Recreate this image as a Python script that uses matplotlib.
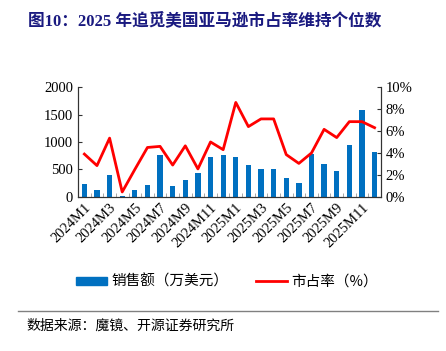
import numpy as np
import matplotlib.pyplot as plt
from matplotlib.patches import Patch
from matplotlib.lines import Line2D

plt.rcParams['font.family'] = ['Liberation Serif', 'Noto Sans CJK SC', 'DejaVu Sans']

months = [f'{y}M{m}' for y in (2024, 2025) for m in range(1, 13)]
sales = [240, 125, 400, 20, 125, 225, 760, 190, 310, 440, 730, 770,
         730, 580, 500, 500, 350, 245, 780, 600, 475, 940, 1575, 820]
share = [3.9, 2.85, 5.35, 0.45, 2.5, 4.5, 4.6, 2.9, 4.65, 2.55, 5.0, 4.3,
         8.6, 6.4, 7.1, 7.1, 3.85, 3.05, 4.0, 6.15, 5.4, 6.85, 6.85, 6.3]

bar_color = '#0070C0'
line_color = '#FF0000'
title_color = '#1A1A80'
cjk = ['Noto Sans CJK SC', 'DejaVu Sans']

fig = plt.figure(figsize=(4.46, 3.51), dpi=100)
ax = fig.add_axes([0.175, 0.439, 0.679, 0.313])
x = np.arange(len(months))
ax.bar(x, sales, width=0.42, color=bar_color, zorder=2)
ax.set_xlim(-0.5, len(months) - 0.5)
ax.set_ylim(0, 2000)
ax.set_yticks([0, 500, 1000, 1500, 2000])
ax.tick_params(axis='y', direction='in', length=3, labelsize=10.5, color='#333333')

ax.set_xticks(x[::2])
ax.set_xticklabels(months[::2], rotation=45, ha='right', rotation_mode='anchor', fontsize=10.5)
ax.set_xticks(np.arange(-0.5, len(months), 1), minor=True)
ax.tick_params(axis='x', which='major', length=0, pad=3)
ax.tick_params(axis='x', which='minor', direction='in', length=3, color='#999999')

ax2 = ax.twinx()
ax2.plot(x, share, color=line_color, lw=2, zorder=3)
ax2.set_ylim(0, 10)
ax2.set_yticks([0, 2, 4, 6, 8, 10])
ax2.set_yticklabels([f'{v}%' for v in [0, 2, 4, 6, 8, 10]])
ax2.tick_params(axis='y', direction='in', length=3, labelsize=10.5, color='#333333')

for a in (ax, ax2):
    a.spines['top'].set_visible(False)
    for s in ('left', 'right', 'bottom'):
        a.spines[s].set_color('#333333')
        a.spines[s].set_linewidth(0.8)

fig.text(0.063, 0.94, '图10：2025 年追觅美国亚马逊市占率维持个位数', fontsize=12,
         fontweight='bold', color=title_color, va='center', ha='left')

handles = [Patch(color=bar_color, label='销售额（万美元）'),
           Line2D([0], [0], color=line_color, lw=2, label='市占率（%）')]
fig.legend(handles=handles, loc='center', bbox_to_anchor=(0.509, 0.197), ncol=2, frameon=False,
           handlelength=2.1, handleheight=0.5, handletextpad=0.3, columnspacing=1.9,
           prop={'family': cjk, 'size': 10.5})

fig.add_artist(Line2D([0.04, 0.982], [0.114, 0.114], color='#808080', lw=1))
fig.text(0.06, 0.072, '数据来源：魔镜、开源证券研究所', fontsize=10, va='center', ha='left',
         family=cjk)

fig.savefig('out.png', dpi=100)
